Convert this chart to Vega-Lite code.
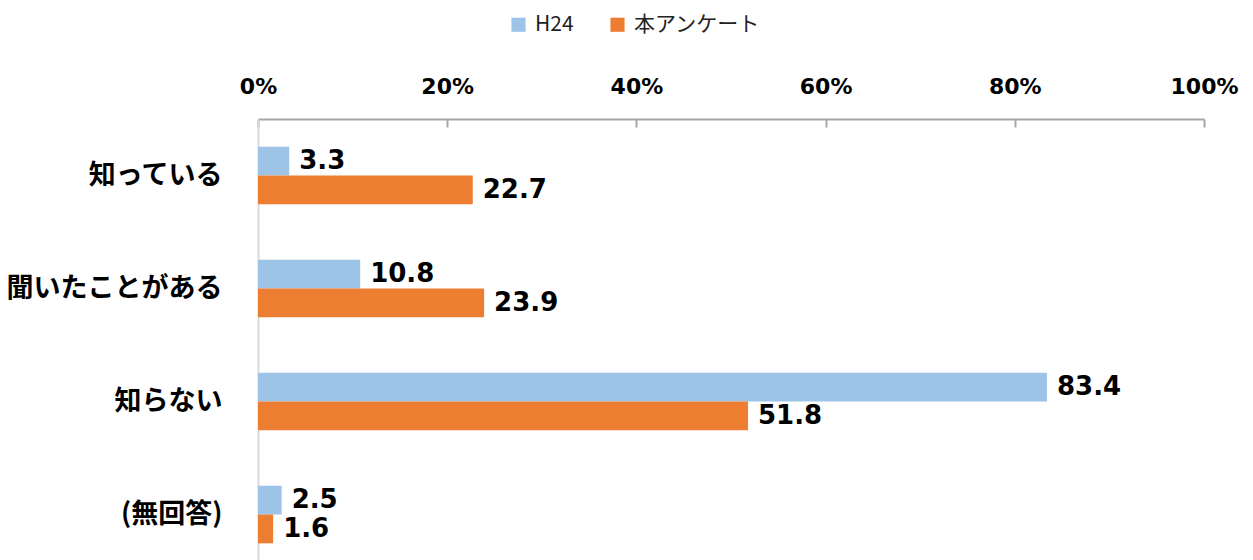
{
  "$schema": "https://vega.github.io/schema/vega-lite/v6.json",
  "width": 946,
  "height": 452,
  "autosize": {"type": "none"},
  "padding": {"left": 258, "top": 119, "right": 49, "bottom": 0},
  "background": "white",
  "data": {
    "values": [
      {"cat": "知っている", "series": "H24", "value": 3.3},
      {"cat": "知っている", "series": "本アンケート", "value": 22.7},
      {"cat": "聞いたことがある", "series": "H24", "value": 10.8},
      {"cat": "聞いたことがある", "series": "本アンケート", "value": 23.9},
      {"cat": "知らない", "series": "H24", "value": 83.4},
      {"cat": "知らない", "series": "本アンケート", "value": 51.8},
      {"cat": "(無回答)", "series": "H24", "value": 2.5},
      {"cat": "(無回答)", "series": "本アンケート", "value": 1.6}
    ]
  },
  "encoding": {
    "y": {
      "field": "cat",
      "type": "nominal",
      "sort": ["知っている", "聞いたことがある", "知らない", "(無回答)"],
      "scale": {"paddingInner": 0.49, "paddingOuter": 0.245},
      "axis": {
        "title": null,
        "labelFont": "Noto Sans CJK JP",
        "labelFontSize": 27,
        "labelFontWeight": "bold",
        "labelColor": "#000000",
        "labelPadding": 36,
        "labelLimit": 400,
        "ticks": false,
        "domainColor": "#D9D9D9",
        "domainWidth": 2
      }
    },
    "yOffset": {
      "field": "series",
      "type": "nominal",
      "sort": ["H24", "本アンケート"]
    },
    "x": {
      "field": "value",
      "type": "quantitative",
      "scale": {"domain": [0, 100], "nice": false, "zero": true},
      "axis": {
        "orient": "top",
        "title": null,
        "values": [0, 20, 40, 60, 80, 100],
        "labelExpr": "datum.value + '%'",
        "grid": false,
        "domainColor": "#A6A6A6",
        "domainWidth": 2,
        "tickColor": "#A6A6A6",
        "tickWidth": 2,
        "tickSize": -8,
        "labelFont": "DejaVu Sans",
        "labelFontSize": 22,
        "labelFontWeight": "bold",
        "labelColor": "#000000",
        "labelPadding": 29,
        "labelFlush": false
      }
    },
    "color": {
      "field": "series",
      "type": "nominal",
      "scale": {"domain": ["H24", "本アンケート"], "range": ["#9DC3E6", "#ED7D31"]},
      "legend": {
        "title": null,
        "orient": "none",
        "direction": "horizontal",
        "legendX": 250,
        "legendY": -105,
        "symbolType": "square",
        "symbolSize": 200,
        "symbolStrokeWidth": 0,
        "labelFont": "Noto Sans CJK JP",
        "labelFontSize": 21,
        "labelColor": "#222222",
        "columnPadding": 33,
        "labelOffset": 6
      }
    }
  },
  "layer": [
    {"mark": {"type": "bar"}},
    {
      "mark": {
        "type": "text",
        "align": "left",
        "baseline": "middle",
        "dx": 10,
        "font": "DejaVu Sans",
        "fontSize": 26,
        "fontWeight": "bold",
        "color": "#000000"
      },
      "encoding": {
        "text": {"field": "value", "type": "quantitative", "format": ".1f"},
        "color": {"value": "#000000"}
      }
    }
  ],
  "config": {"view": {"stroke": null}}
}
